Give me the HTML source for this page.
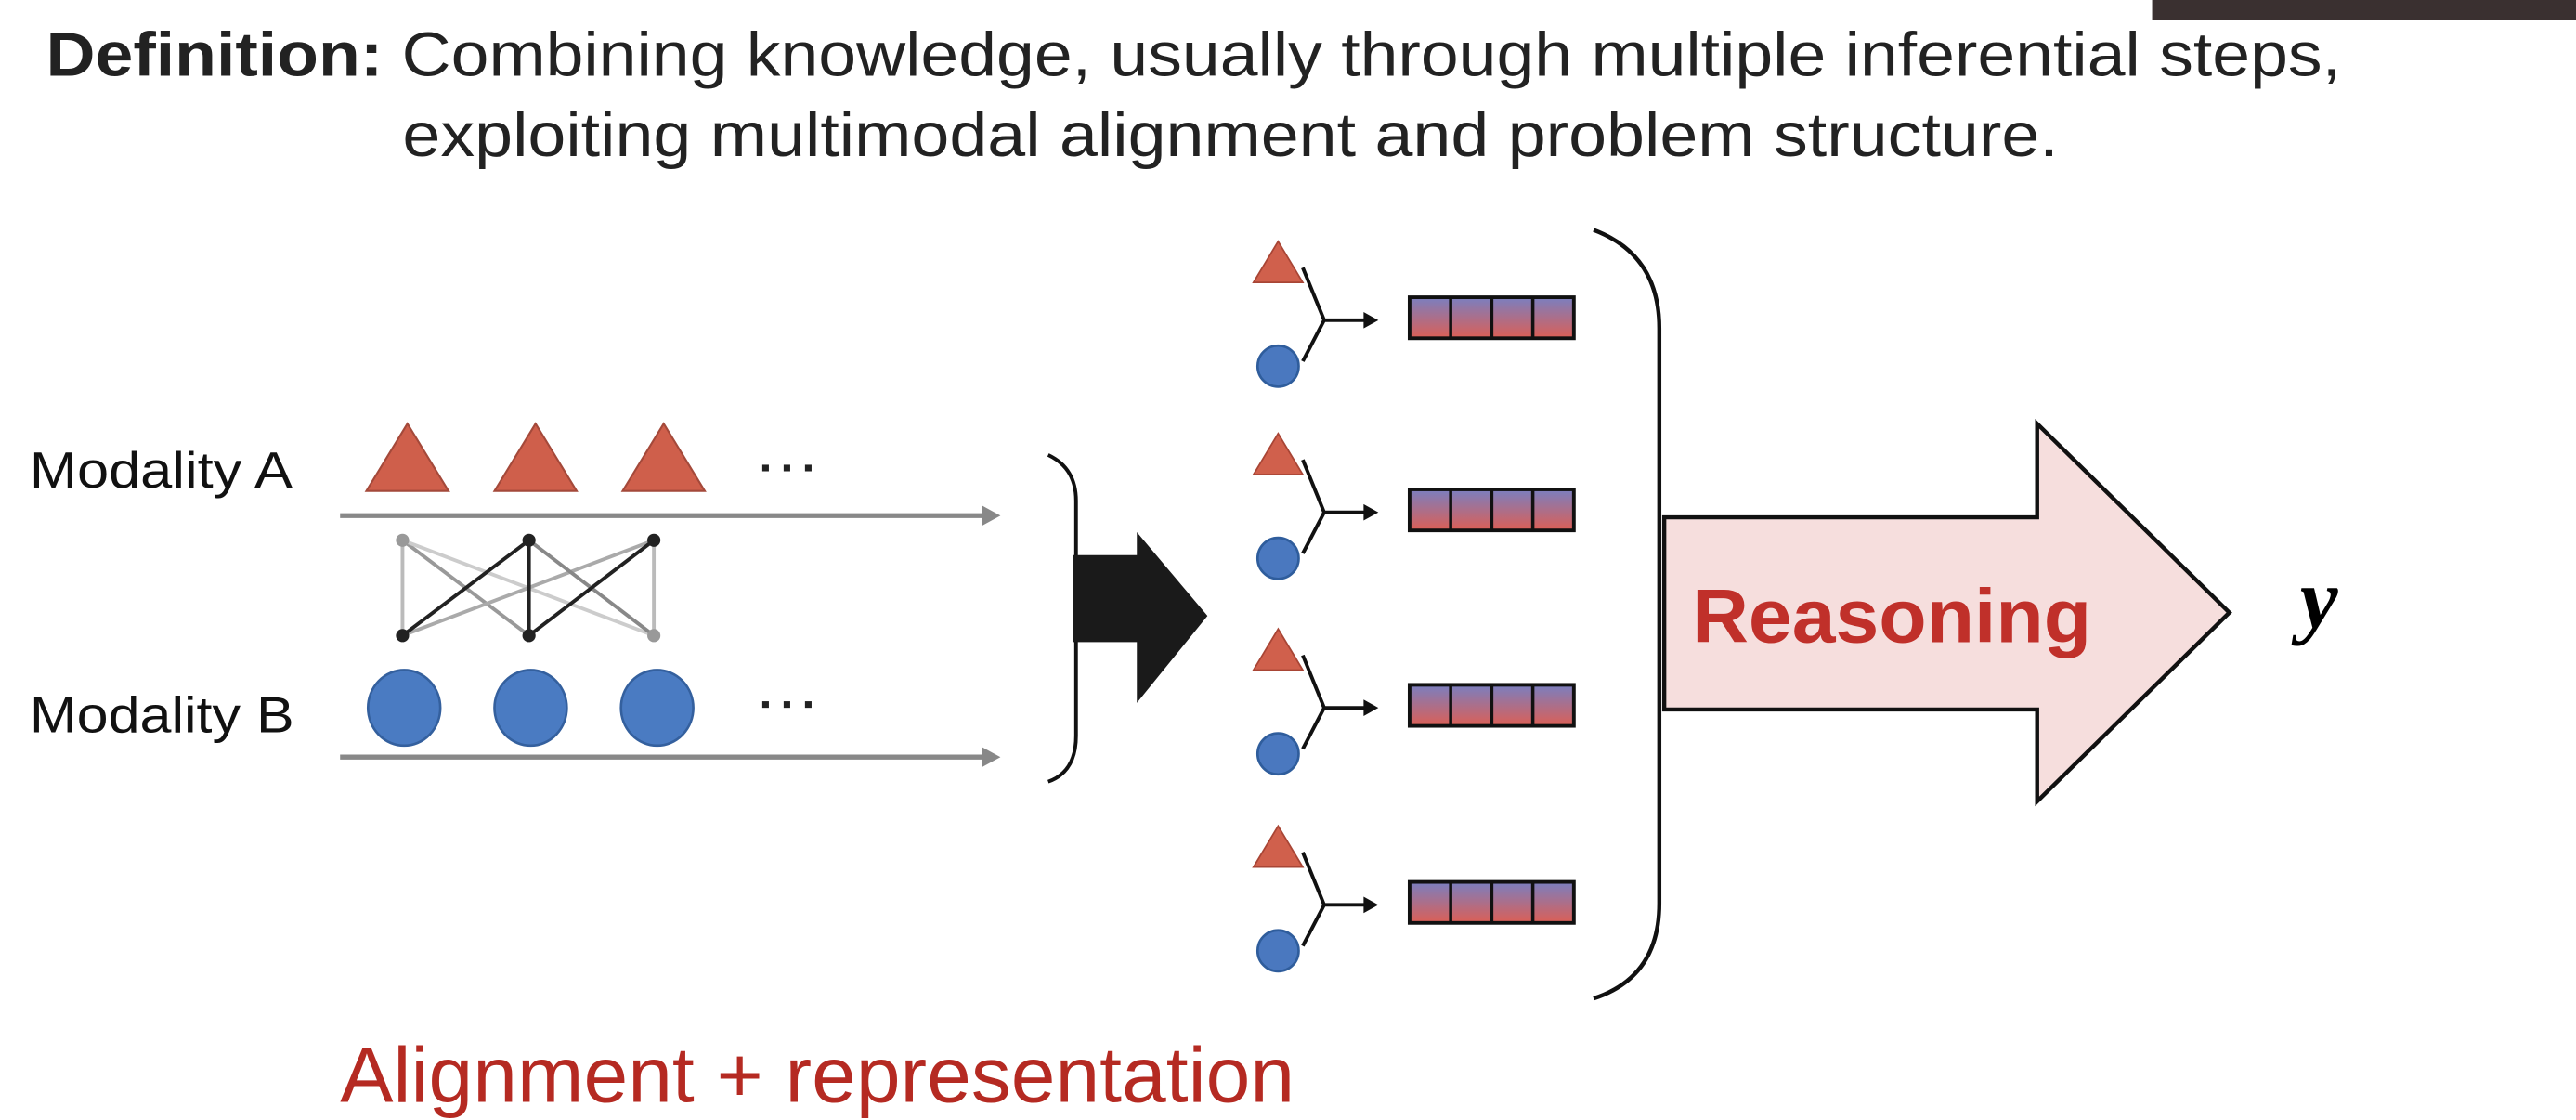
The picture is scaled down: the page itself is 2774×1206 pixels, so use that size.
<!DOCTYPE html>
<html><head><meta charset="utf-8"><style>html,body{margin:0;padding:0;background:#fff;}svg{display:block;}</style></head>
<body>
<svg width="2774" height="1206" viewBox="0 0 1568 682" preserveAspectRatio="none" xmlns="http://www.w3.org/2000/svg" font-family="Liberation Sans, sans-serif">
<defs>
<linearGradient id="g" x1="0" y1="0" x2="0" y2="1"><stop offset="0" stop-color="#7a7fc0"/><stop offset="1" stop-color="#dc5f55"/></linearGradient>
<g id="row">
<polygon points="778,147 763,172 793,172" fill="#d0604c" stroke="#a84535" stroke-width="1"/>
<circle cx="778" cy="223" r="12.5" fill="#4a78bf" stroke="#2f5d9c" stroke-width="1.5"/>
<path d="M793,163 L806,195 L793,220 M806,195 L832,195" fill="none" stroke="#111" stroke-width="2.2"/>
<polygon points="839,195 830,190 830,200" fill="#111"/>
<rect x="858" y="181" width="100" height="25" fill="url(#g)" stroke="#111" stroke-width="2.2"/>
<path d="M883,181V206M908,181V206M933,181V206" stroke="#111" stroke-width="2"/>
</g>
</defs>
<rect x="1310" y="0" width="258" height="12" fill="#3a3030"/>
<text x="28" y="46" font-size="38" fill="#222" textLength="1397" lengthAdjust="spacingAndGlyphs"><tspan font-weight="bold">Definition:</tspan> Combining knowledge, usually through multiple inferential steps,</text>
<text x="245" y="95" font-size="38" fill="#222" textLength="1008" lengthAdjust="spacingAndGlyphs">exploiting multimodal alignment and problem structure.</text>
<text x="18" y="297" font-size="31" fill="#111" textLength="160" lengthAdjust="spacingAndGlyphs">Modality A</text>
<text x="18" y="446" font-size="31" fill="#111" textLength="161" lengthAdjust="spacingAndGlyphs">Modality B</text>
<g fill="#cf5f4b" stroke="#a4493a" stroke-width="1.2">
<polygon points="248,258 223,299 273,299"/><polygon points="326,258 301,299 351,299"/><polygon points="404,258 379,299 429,299"/>
</g>
<g fill="#4a7bc2" stroke="#34609e" stroke-width="1.5">
<ellipse cx="246" cy="431" rx="22" ry="23"/><ellipse cx="323" cy="431" rx="22" ry="23"/><ellipse cx="400" cy="431" rx="22" ry="23"/>
</g>
<g fill="#222"><rect x="464" y="283" width="4" height="4"/><rect x="477" y="283" width="4" height="4"/><rect x="490" y="283" width="4" height="4"/>
<rect x="464" y="427" width="4" height="4"/><rect x="477" y="427" width="4" height="4"/><rect x="490" y="427" width="4" height="4"/></g>
<g stroke="#888" stroke-width="3"><line x1="207" y1="314" x2="600" y2="314"/><line x1="207" y1="461" x2="600" y2="461"/></g>
<polygon points="609,314 598,308 598,320" fill="#888"/><polygon points="609,461 598,455 598,467" fill="#888"/>
<g stroke-width="2.2" fill="none">
<line x1="245" y1="329" x2="245" y2="387" stroke="#bbb"/>
<line x1="245" y1="329" x2="322" y2="387" stroke="#999"/>
<line x1="245" y1="329" x2="398" y2="387" stroke="#ccc"/>
<line x1="398" y1="329" x2="398" y2="387" stroke="#bbb"/>
<line x1="398" y1="329" x2="245" y2="387" stroke="#aaa"/>
<line x1="322" y1="329" x2="398" y2="387" stroke="#888"/>
<line x1="322" y1="329" x2="245" y2="387" stroke="#222"/>
<line x1="322" y1="329" x2="322" y2="387" stroke="#222"/>
<line x1="398" y1="329" x2="322" y2="387" stroke="#222"/>
</g>
<circle cx="245" cy="329" r="4" fill="#999"/><circle cx="322" cy="329" r="4" fill="#222"/><circle cx="398" cy="329" r="4" fill="#222"/>
<circle cx="245" cy="387" r="4" fill="#222"/><circle cx="322" cy="387" r="4" fill="#222"/><circle cx="398" cy="387" r="4" fill="#999"/>
<path d="M638,277 Q655,285 655,305 L655,448 Q655,470 638,476" fill="none" stroke="#111" stroke-width="2.2"/>
<polygon points="653,338 692,338 692,324 735,375 692,428 692,391 653,391" fill="#1a1a1a"/>
<use href="#row"/>
<use href="#row" transform="translate(0,117)"/>
<use href="#row" transform="translate(0,236)"/>
<use href="#row" transform="translate(0,356)"/>
<path d="M970,140 Q1010,155 1010,200 L1010,550 Q1010,595 970,608" fill="none" stroke="#111" stroke-width="2.5"/>
<polygon points="1013,315 1240,315 1240,258 1357,373 1240,488 1240,432 1013,432" fill="#f6dedd" stroke="#111" stroke-width="2.5"/>
<text x="1030" y="391" font-size="46" font-weight="bold" fill="#c0302a" textLength="243" lengthAdjust="spacingAndGlyphs">Reasoning</text>
<text x="1400" y="382" font-size="52" font-weight="bold" font-style="italic" font-family="Liberation Serif, serif" fill="#000">y</text>
<text x="207" y="671" font-size="48" fill="#b52a22" textLength="581" lengthAdjust="spacingAndGlyphs">Alignment + representation</text>
</svg>
</body></html>
